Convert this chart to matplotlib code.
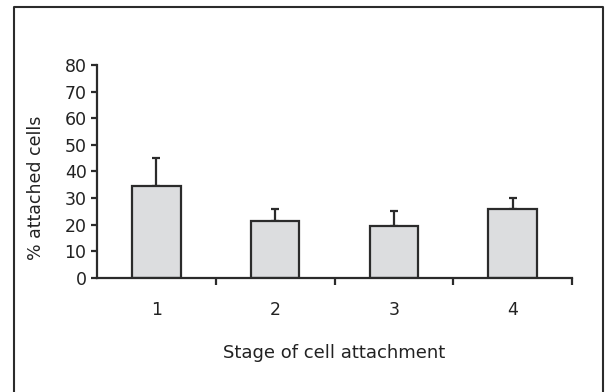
import matplotlib
matplotlib.use("Agg")
import matplotlib.pyplot as plt
from matplotlib.lines import Line2D

stages = [1, 2, 3, 4]
stage_labels = ["1", "2", "3", "4"]
attached = [34.5, 21.2, 19.4, 25.8]
err = [10.4, 4.6, 5.6, 4.0]
yticks = [0, 10, 20, 30, 40, 50, 60, 70, 80]

plt.rcParams['font.family'] = ['DejaVu Sans']

fig = plt.figure(figsize=(6.05, 3.92), dpi=100)
ax = fig.add_axes([0.1603, 0.2916, 0.7852, 0.5426])

dark = "#2b2b2b"
ax.bar(stages, attached, width=0.41, color="#dcdddf", edgecolor=dark, linewidth=1.6, zorder=2)
ax.errorbar(stages, attached, yerr=[[0] * len(err), err], fmt="none", ecolor=dark,
            elinewidth=1.6, capsize=3, capthick=1.6, zorder=1)

ax.set_xlim(0.5, 4.5)
ax.set_ylim(0, 80)
ax.set_yticks(yticks)
ax.set_yticklabels([str(t) for t in yticks])

# ticks at category boundaries, labels at category centres
ax.set_xticks([s + 0.5 for s in stages])
ax.set_xticklabels([])
ax.set_xticks(stages, minor=True)
ax.set_xticklabels(stage_labels, minor=True)
ax.tick_params(axis="x", which="major", direction="out", length=5, width=1.6, color=dark)
ax.tick_params(axis="x", which="minor", length=0, pad=17, labelsize=12.5, labelcolor="#222222")
ax.tick_params(axis="y", direction="out", length=4.5, width=1.6, color=dark, pad=3,
               labelsize=12.5, labelcolor="#222222")

for side in ["top", "right"]:
    ax.spines[side].set_visible(False)
for side in ["left", "bottom"]:
    ax.spines[side].set_linewidth(1.6)
    ax.spines[side].set_color(dark)

ax.set_ylabel("% attached cells", fontsize=12.5, color="#222222")
ax.yaxis.set_label_coords(-0.109, 0.424)
ax.set_xlabel("Stage of cell attachment", fontsize=13, color="#222222", labelpad=18)

# outer frame (left, top, right)
x0, x1 = 14 / 605, 603 / 605
y0, y1 = -0.01, 1 - 7 / 392
fig.add_artist(Line2D([x0, x0, x1, x1], [y0, y1, y1, y0], transform=fig.transFigure,
                      color=dark, linewidth=1.5))

fig.savefig("out.png", dpi=100)
